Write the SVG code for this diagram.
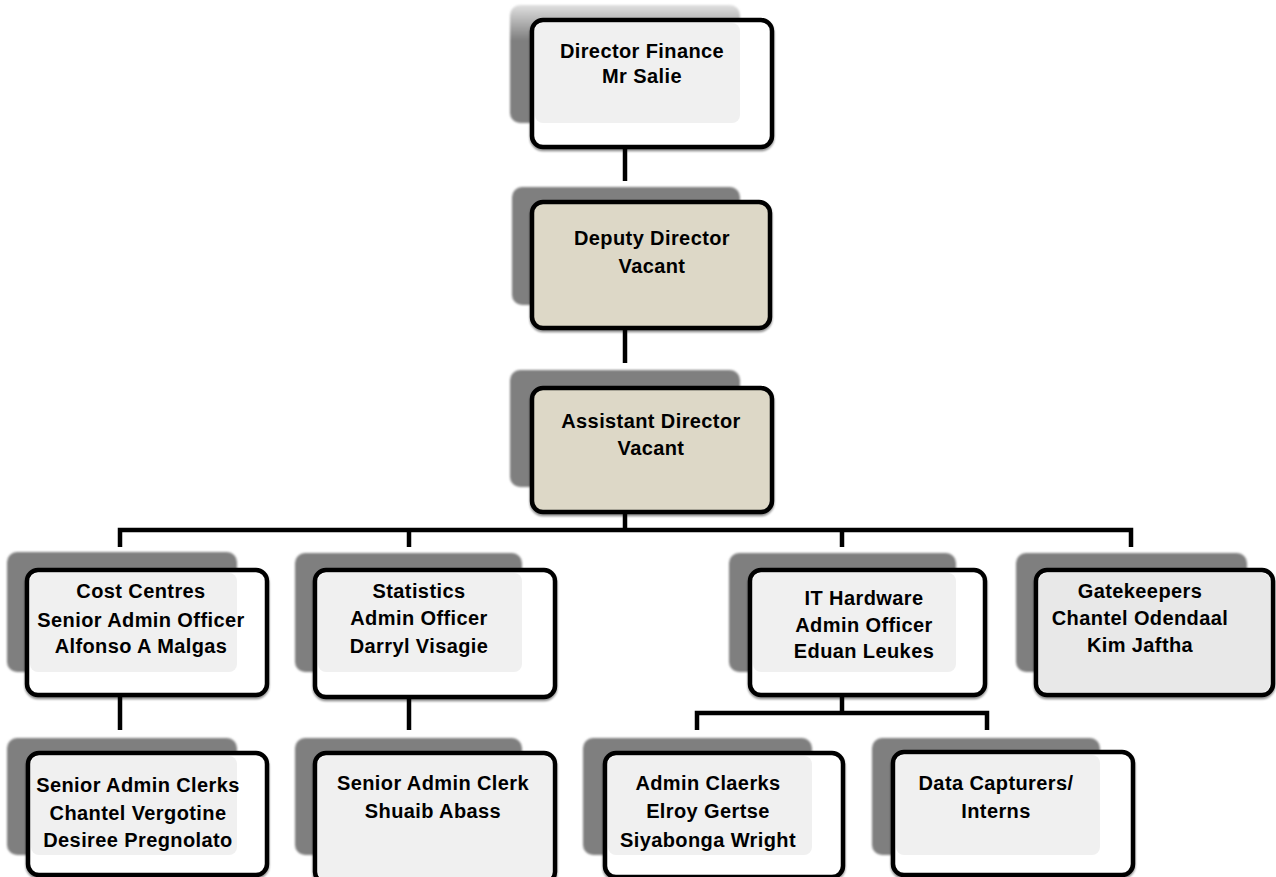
<svg xmlns="http://www.w3.org/2000/svg" width="1276" height="877" viewBox="0 0 1276 877">
  <style>
    .shadow { fill: #7f7f7f; filter: url(#soft); }
    .box { fill: #ffffff; stroke: #000000; stroke-width: 4.5; filter: url(#edge); }
    .beige { fill: #ddd8c7; }
    .panel { fill: #f0f0f0; }
    .panel-dark { fill: #e8e8e8; }
    .link { fill: none; stroke: #000000; stroke-width: 4.5; stroke-linejoin: miter; }
    text { font-family: "Liberation Sans", Arial, sans-serif; font-weight: bold; font-size: 20px; letter-spacing: 0.4px; fill: #000000; text-anchor: middle; }
  </style>
  <defs>
    <filter id="soft" x="-5%" y="-5%" width="110%" height="110%">
      <feGaussianBlur stdDeviation="1.2"/>
    </filter>
    <filter id="edge" x="-5%" y="-5%" width="110%" height="115%">
      <feDropShadow dx="0" dy="2" stdDeviation="1.2" flood-color="#000000" flood-opacity="0.45"/>
    </filter>
    <linearGradient id="fadeTop" x1="0" y1="0" x2="0" y2="1">
      <stop offset="0" stop-color="#e0e0e0"/>
      <stop offset="0.3" stop-color="#7f7f7f"/>
      <stop offset="1" stop-color="#7f7f7f"/>
    </linearGradient>
  </defs>

  <!-- connectors -->
  <g id="connectors">
    <path class="link" d="M625 147 V181"/>
    <path class="link" d="M625 328 V363"/>
    <path class="link" d="M625 512 V530"/>
    <path class="link" d="M120 547 V530 H1131 V547"/>
    <path class="link" d="M409 530 V547"/>
    <path class="link" d="M842 530 V547"/>
    <path class="link" d="M120 695 V730"/>
    <path class="link" d="M409 697 V730"/>
    <path class="link" d="M842 695 V713"/>
    <path class="link" d="M697 730 V713 H987 V730"/>
  </g>

  <!-- Director Finance -->
  <g id="director-finance">
    <rect x="510" y="5" width="230" height="118" rx="10" fill="url(#fadeTop)" filter="url(#soft)"/>
    <rect class="box" x="532" y="20" width="240" height="127" rx="11"/>
    <rect class="panel" x="535" y="23" width="205" height="100" rx="8"/>
    <text x="642" y="58">Director Finance</text>
    <text x="642" y="83">Mr Salie</text>
  </g>

  <!-- Deputy Director -->
  <g id="deputy-director">
    <rect class="shadow" x="512" y="187" width="228" height="118" rx="10"/>
    <rect class="box beige" x="532" y="202" width="238" height="126" rx="11"/>
    <text x="652" y="245">Deputy Director</text>
    <text x="652" y="273">Vacant</text>
  </g>

  <!-- Assistant Director -->
  <g id="assistant-director">
    <rect class="shadow" x="510" y="370" width="230" height="117" rx="10"/>
    <rect class="box beige" x="532" y="388" width="240" height="124" rx="11"/>
    <text x="651" y="428">Assistant Director</text>
    <text x="651" y="455">Vacant</text>
  </g>

  <!-- Cost Centres -->
  <g id="cost-centres">
    <rect class="shadow" x="7" y="552" width="230" height="120" rx="10"/>
    <rect class="box" x="27" y="570" width="240" height="125" rx="11"/>
    <rect class="panel" x="30" y="573" width="207" height="99" rx="8"/>
    <text x="141" y="598">Cost Centres</text>
    <text x="141" y="627">Senior Admin Officer</text>
    <text x="141" y="653">Alfonso A Malgas</text>
  </g>

  <!-- Statistics -->
  <g id="statistics">
    <rect class="shadow" x="295" y="553" width="227" height="119" rx="10"/>
    <rect class="box" x="315" y="570" width="240" height="127" rx="11"/>
    <rect class="panel" x="318" y="573" width="204" height="99" rx="8"/>
    <text x="419" y="598">Statistics</text>
    <text x="419" y="625">Admin Officer</text>
    <text x="419" y="653">Darryl Visagie</text>
  </g>

  <!-- IT Hardware -->
  <g id="it-hardware">
    <rect class="shadow" x="729" y="553" width="227" height="119" rx="10"/>
    <rect class="box" x="750" y="570" width="235" height="125" rx="11"/>
    <rect class="panel" x="753" y="573" width="203" height="99" rx="8"/>
    <text x="864" y="605">IT Hardware</text>
    <text x="864" y="632">Admin Officer</text>
    <text x="864" y="658">Eduan Leukes</text>
  </g>

  <!-- Gatekeepers -->
  <g id="gatekeepers">
    <rect class="shadow" x="1016" y="553" width="231" height="119" rx="10"/>
    <rect class="box" x="1036" y="570" width="237" height="125" rx="11"/>
    <rect class="panel-dark" x="1039" y="573" width="231" height="119" rx="8"/>
    <text x="1140" y="598">Gatekeepers</text>
    <text x="1140" y="625">Chantel Odendaal</text>
    <text x="1140" y="652">Kim Jaftha</text>
  </g>

  <!-- Senior Admin Clerks -->
  <g id="senior-admin-clerks">
    <rect class="shadow" x="7" y="738" width="230" height="117" rx="10"/>
    <rect class="box" x="28" y="753" width="239" height="122" rx="11"/>
    <rect class="panel" x="31" y="756" width="206" height="99" rx="8"/>
    <text x="138" y="792">Senior Admin Clerks</text>
    <text x="138" y="820">Chantel Vergotine</text>
    <text x="138" y="847">Desiree Pregnolato</text>
  </g>

  <!-- Senior Admin Clerk -->
  <g id="senior-admin-clerk">
    <rect class="shadow" x="295" y="738" width="227" height="117" rx="10"/>
    <rect class="box" x="315" y="753" width="240" height="130" rx="11"/>
    <rect class="panel" x="318" y="756" width="234" height="124" rx="8"/>
    <text x="433" y="790">Senior Admin Clerk</text>
    <text x="433" y="818">Shuaib Abass</text>
  </g>

  <!-- Admin Clerks -->
  <g id="admin-clerks">
    <rect class="shadow" x="583" y="738" width="229" height="117" rx="10"/>
    <rect class="box" x="605" y="753" width="238" height="124" rx="11"/>
    <rect class="panel" x="608" y="756" width="204" height="99" rx="8"/>
    <text x="708" y="790">Admin Claerks</text>
    <text x="708" y="818">Elroy Gertse</text>
    <text x="708" y="847">Siyabonga Wright</text>
  </g>

  <!-- Data Capturers -->
  <g id="data-capturers">
    <rect class="shadow" x="872" y="738" width="228" height="117" rx="10"/>
    <rect class="box" x="893" y="752" width="240" height="123" rx="11"/>
    <rect class="panel" x="896" y="755" width="204" height="100" rx="8"/>
    <text x="996" y="790">Data Capturers/</text>
    <text x="996" y="818">Interns</text>
  </g>
</svg>
